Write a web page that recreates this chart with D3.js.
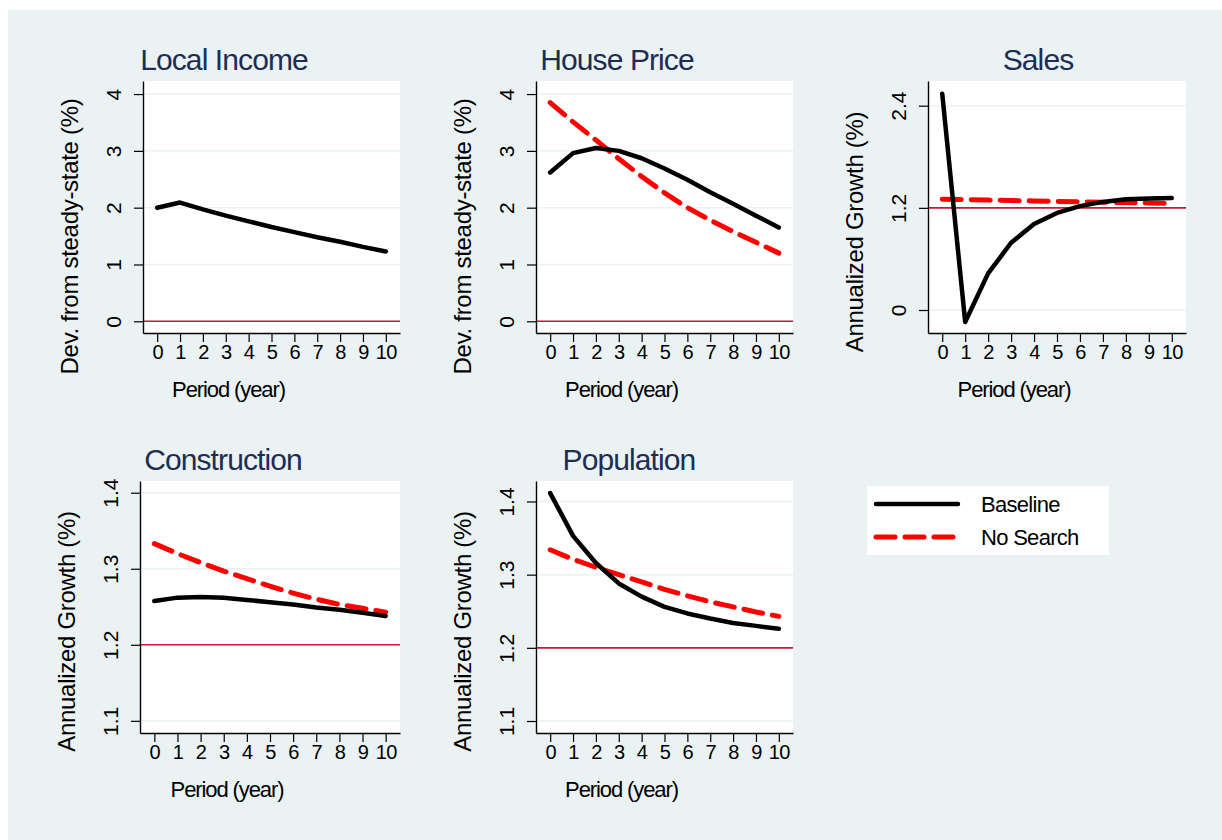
<!DOCTYPE html>
<html>
<head>
<meta charset="utf-8">
<script src="https://cdn.jsdelivr.net/npm/d3@7"></script>
<style>
  body { margin: 0; background: #fff; }
  svg { display: block; font-family: "Liberation Sans", Arial, sans-serif; }
  .tick line { stroke: #000; stroke-width: 1.2; }
  .domain { stroke: #000; stroke-width: 1.4; }
</style>
</head>
<body>
<svg width="1222" height="840"></svg>
<script>
// periods on the x axis
const periods = [0, 1, 2, 3, 4, 5, 6, 7, 8, 9, 10];

// values
const incomeBase = [2.00, 2.09, 1.97, 1.86, 1.76, 1.66, 1.57, 1.48, 1.40, 1.31, 1.23];
const priceBase = [2.62, 2.96, 3.05, 3.00, 2.87, 2.69, 2.49, 2.27, 2.07, 1.86, 1.65];
const priceNoSearch = [3.85, 3.51, 3.19, 2.86, 2.55, 2.26, 2.00, 1.78, 1.58, 1.39, 1.20];
const salesBase = [2.54, -0.14, 0.43, 0.79, 1.01, 1.14, 1.22, 1.27, 1.30, 1.31, 1.315];
const salesNoSearch = [1.300, 1.296, 1.291, 1.286, 1.281, 1.276, 1.271, 1.266, 1.262, 1.258, 1.254];
const constrBase = [1.2575, 1.262, 1.263, 1.262, 1.259, 1.256, 1.253, 1.249, 1.246, 1.242, 1.238];
const constrNoSearch = [1.333, 1.320, 1.308, 1.297, 1.287, 1.277, 1.268, 1.260, 1.253, 1.248, 1.243];
const popBase = [1.4115, 1.353, 1.316, 1.288, 1.270, 1.256, 1.247, 1.240, 1.234, 1.230, 1.226];
const popNoSearch = [1.334, 1.321, 1.310, 1.300, 1.290, 1.280, 1.271, 1.263, 1.256, 1.249, 1.243];

// tick labels
const devTicks = [0, 1, 2, 3, 4];
const salesTicks = [0, 1.2, 2.4];
const growthTicks = [1.1, 1.2, 1.3, 1.4];

const seriesNames = ["Baseline", "No Search"];

const svg = d3.select("svg");

svg.append("rect")
    .attr("x", 8).attr("y", 10)
    .attr("width", 1214).attr("height", 830)
    .attr("fill", "#eaf2f3");

const panels = [
    { title: "Local Income", ytitle: "Dev. from steady-state (%)", base: incomeBase, nosearch: null,
      ticks: devTicks, ref: 0, ydom: [-0.206, 4.23],
      L: 143, R: 400, T: 81, B: 333, tx: 224, ty: 70, yty: 236.5 },
    { title: "House Price", ytitle: "Dev. from steady-state (%)", base: priceBase, nosearch: priceNoSearch,
      ticks: devTicks, ref: 0, ydom: [-0.206, 4.23],
      L: 536, R: 793, T: 81, B: 333, tx: 617, ty: 70, yty: 236.5 },
    { title: "Sales", ytitle: "Annualized Growth (%)", base: salesBase, nosearch: salesNoSearch,
      ticks: salesTicks, ref: 1.2, ydom: [-0.27, 2.69],
      L: 928, R: 1186, T: 81, B: 333, tx: 1038, ty: 70, yty: 232 },
    { title: "Construction", ytitle: "Annualized Growth (%)", base: constrBase, nosearch: constrNoSearch,
      ticks: growthTicks, ref: 1.2, ydom: [1.084, 1.4154],
      L: 140, R: 400, T: 481, B: 733, tx: 223, ty: 470, yty: 631.5 },
    { title: "Population", ytitle: "Annualized Growth (%)", base: popBase, nosearch: popNoSearch,
      ticks: growthTicks, ref: 1.2, ydom: [1.0836, 1.428],
      L: 536, R: 793, T: 481, B: 733, tx: 629, ty: 470, yty: 631.5 }
];

panels.forEach(function(p) {
    const x = d3.scaleLinear().domain([-0.62, 10.62]).range([p.L, p.R]);
    const y = d3.scaleLinear().domain(p.ydom).range([p.B, p.T]);
    const g = svg.append("g");

    g.append("rect")
        .attr("x", p.L).attr("y", p.T)
        .attr("width", p.R - p.L).attr("height", p.B - p.T)
        .attr("fill", "#fff");

    // grid lines
    g.selectAll(".grid")
        .data(p.ticks)
        .enter().append("line")
        .attr("x1", p.L).attr("x2", p.R)
        .attr("y1", function(d) { return y(d); })
        .attr("y2", function(d) { return y(d); })
        .attr("stroke", "#eaf2f3")
        .attr("stroke-width", 1.5);

    // reference line
    g.append("line")
        .attr("x1", p.L).attr("x2", p.R)
        .attr("y1", y(p.ref)).attr("y2", y(p.ref))
        .attr("stroke", "#d0143c")
        .attr("stroke-width", 1.6);

    const line = d3.line()
        .x(function(d, i) { return x(periods[i]); })
        .y(function(d) { return y(d); });

    if (p.nosearch) {
        g.append("path")
            .attr("d", line(p.nosearch))
            .attr("fill", "none")
            .attr("stroke", "#ff0000")
            .attr("stroke-width", 5)
            .attr("stroke-dasharray", "19,10")
            .attr("stroke-linecap", "round")
            .attr("stroke-linejoin", "round");
    }

    g.append("path")
        .attr("d", line(p.base))
        .attr("fill", "none")
        .attr("stroke", "#000")
        .attr("stroke-width", 4.5)
        .attr("stroke-linecap", "round")
        .attr("stroke-linejoin", "round");

    // y axis
    const ya = g.append("g")
        .attr("transform", "translate(" + p.L + ",0)")
        .call(d3.axisLeft(y).tickValues(p.ticks).tickSize(9).tickSizeOuter(0)
            .tickFormat(function(d) { return d === 0 ? "0" : d3.format(".1~f")(d); }));
    ya.selectAll("text")
        .attr("transform", "rotate(-90)")
        .attr("text-anchor", "middle")
        .attr("x", 0).attr("y", -22).attr("dy", 0)
        .attr("fill", "#000")
        .style("font-size", "21px")
        .style("font-family", "'Liberation Sans', Arial, sans-serif");

    // x axis
    const xa = g.append("g")
        .attr("transform", "translate(0," + p.B + ")")
        .call(d3.axisBottom(x).tickValues(periods).tickSize(9).tickSizeOuter(0));
    xa.selectAll("text")
        .attr("y", 26).attr("dy", 0)
        .attr("fill", "#000")
        .attr("letter-spacing", -0.6)
        .style("font-size", "20px")
        .style("font-family", "'Liberation Sans', Arial, sans-serif");

    // axis titles
    g.append("text")
        .attr("x", (p.L + p.R) / 2 - 43)
        .attr("y", p.B + 64)
        .attr("text-anchor", "middle")
        .style("font-size", "22px")
        .attr("letter-spacing", -1.1)
        .text("Period (year)");

    g.append("text")
        .attr("transform", "translate(" + (p.L - 65) + "," + p.yty + ") rotate(-90)")
        .attr("text-anchor", "middle")
        .style("font-size", "24px")
        .attr("letter-spacing", -0.3)
        .text(p.ytitle);

    g.append("text")
        .attr("x", p.tx).attr("y", p.ty)
        .attr("text-anchor", "middle")
        .style("font-size", "30px")
        .attr("letter-spacing", -0.9)
        .attr("fill", "#1e2d53")
        .text(p.title);
});

// legend
const legend = svg.append("g");
legend.append("rect")
    .attr("x", 867).attr("y", 486)
    .attr("width", 242).attr("height", 69)
    .attr("fill", "#fff");

const ly = d3.scalePoint().domain(seriesNames).range([504, 537]);

legend.selectAll(".lg")
    .data(seriesNames)
    .enter().append("line")
    .attr("x1", 876).attr("x2", 958)
    .attr("y1", function(d) { return ly(d); })
    .attr("y2", function(d) { return ly(d); })
    .attr("stroke", function(d, i) { return i === 0 ? "#000" : "#ff0000"; })
    .attr("stroke-width", function(d, i) { return i === 0 ? 4.5 : 5; })
    .attr("stroke-dasharray", function(d, i) { return i === 0 ? null : "19,10"; })
    .attr("stroke-linecap", "round");

legend.selectAll(".lt")
    .data(seriesNames)
    .enter().append("text")
    .attr("x", 981)
    .attr("y", function(d) { return ly(d) + 8; })
    .style("font-size", "22px")
    .attr("letter-spacing", -0.7)
    .text(function(d) { return d; });
</script>
</body>
</html>
